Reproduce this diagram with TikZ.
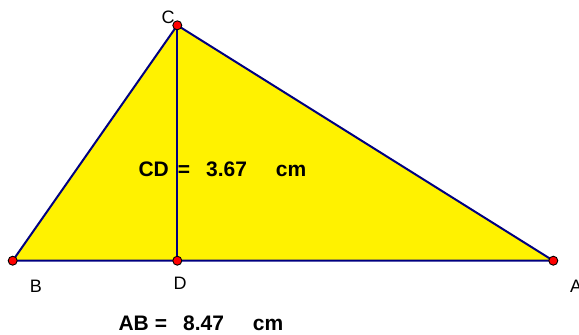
\documentclass[tikz,border=0pt]{standalone}
\usepackage{fontspec}
\setmainfont{Liberation Sans}
\usetikzlibrary{positioning}

\begin{document}
\begin{tikzpicture}[
    x=1pt,y=-1pt,
    font=\fontsize{18}{21}\selectfont,
    pt/.style={circle,draw=black,fill=red,line width=0.9pt,
               inner sep=0pt,minimum size=9pt},
    seg/.style={draw=blue!50!black,line width=2pt},
    measure/.style={anchor=base west,inner sep=0pt,
                    font=\fontsize{21}{25}\selectfont\bfseries}
]
  \useasboundingbox (0,0) rectangle (579,335);

  % triangle and foot of the altitude
  \coordinate (b) at (12.7,260.7);
  \coordinate (c) at (177.3,25.3);
  \coordinate (a) at (553.3,260.7);
  \coordinate (d) at (177.3,260.7);

  \fill[yellow] (b) -- (c) -- (a) -- cycle;
  \draw[seg] (b) -- (c) -- (a) -- cycle;
  \draw[seg] (c) -- (d);

  \node[pt] (ptB) at (b) {};
  \node[pt] (ptC) at (c) {};
  \node[pt] (ptA) at (a) {};
  \node[pt] (ptD) at (d) {};

  % point labels
  \node at (168,17) {C};
  \node at (36,286) {B};
  \node at (180,283) {D};
  \node at (576,286) {A};

  % measurements
  \node[measure] (cdlen) at (138.3,176.7)
    {CD\hspace{9pt}=\hspace{16pt}3.67\hspace{29pt}cm};
  \node[measure] (ablen) at (118.3,330.5)
    {AB\hspace{6pt}=\hspace{16pt}8.47\hspace{29pt}cm};
\end{tikzpicture}
\end{document}
